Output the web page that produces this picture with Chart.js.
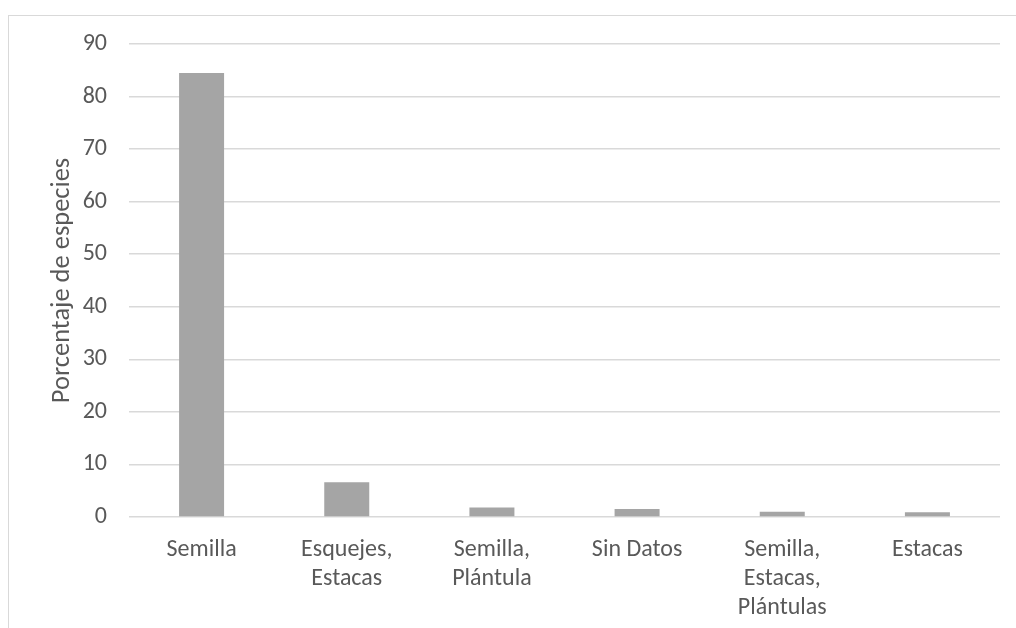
<!DOCTYPE html>
<html>
<head>
<meta charset="utf-8">
<script src="https://cdn.jsdelivr.net/npm/chart.js@4"></script>
<style>
  html, body { margin: 0; padding: 0; background: #fff; }
  #wrap { width: 1016px; height: 628px; position: relative; }
</style>
</head>
<body>
<div id="wrap"><canvas id="chart" width="1016" height="628"></canvas></div>
<script>
// Categories (multi-line labels) and values
const categories = [
  ['Semilla'],
  ['Esquejes,', 'Estacas'],
  ['Semilla,', 'Plántula'],
  ['Sin Datos'],
  ['Semilla,', 'Estacas,', 'Plántulas'],
  ['Estacas']
];
const porcentajes = [84.5, 6.6, 1.8, 1.5, 1.0, 0.9];
const yTicks = { min: 0, max: 90, step: 10 };

const FONT = "Carlito, Lato, 'Liberation Sans', sans-serif";
const TEXT = '#595959';
const GRID = '#D9D9D9';

// thin outline around the whole chart object
const frame = {
  id: 'frame',
  beforeDraw(chart) {
    const ctx = chart.ctx;
    ctx.save();
    ctx.strokeStyle = GRID;
    ctx.lineWidth = 1;
    ctx.strokeRect(8.5, 15.5, 1200, 800);
    ctx.restore();
  }
};

const ctx = document.getElementById('chart').getContext('2d');
const chart = new Chart(ctx, {
  type: 'bar',
  data: {
    labels: categories,
    datasets: [{
      data: porcentajes,
      backgroundColor: '#A5A5A5',
      borderWidth: 0,
      barPercentage: 0.31,
      categoryPercentage: 1
    }]
  },
  options: {
    responsive: false,
    animation: false,
    layout: { padding: { top: 44, right: 16, bottom: 0, left: 0 } },
    plugins: {
      legend: { display: false },
      tooltip: { enabled: false }
    },
    scales: {
      x: {
        grid: { display: false },
        border: { display: false },
        ticks: {
          color: TEXT,
          font: { family: FONT, size: 24, lineHeight: 1.21 },
          padding: 10,
          maxRotation: 0,
          autoSkip: false
        },
        afterFit(scale) { scale.height = 111; }
      },
      y: {
        min: yTicks.min,
        max: yTicks.max,
        ticks: {
          stepSize: yTicks.step,
          color: TEXT,
          font: { family: FONT, size: 24 },
          padding: 22
        },
        grid: { color: GRID, lineWidth: 1.5, drawTicks: false },
        border: { display: false },
        title: {
          display: true,
          text: 'Porcentaje de especies',
          color: TEXT,
          font: { family: FONT, size: 26.5, lineHeight: 1.2 },
          padding: { top: 46, bottom: 0 }
        },
        afterFit(scale) { scale.width = 129; }
      }
    }
  },
  plugins: [frame]
});
</script>
</body>
</html>
